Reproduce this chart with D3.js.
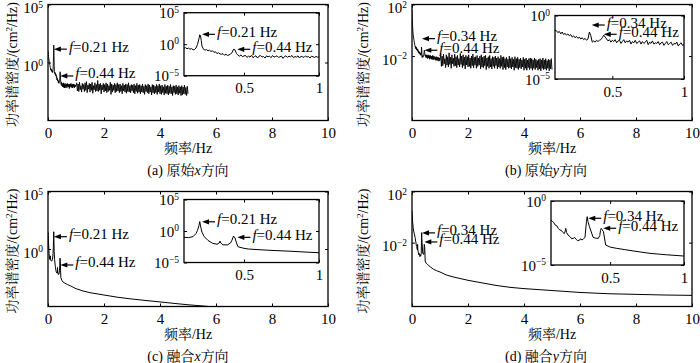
<!DOCTYPE html>
<html><head><meta charset="utf-8">
<script src="https://cdn.jsdelivr.net/npm/d3@7"></script>
<style>body{margin:0;background:#fff}svg{display:block}</style>
</head><body><svg id="c" width="700" height="363"></svg>
<script>
// ================= DATA (values are log10 of PSD, cm^2/Hz) =================
const mainFreqTicks = [0, 2, 4, 6, 8, 10];
const insetFreqTicks = [0.5, 1];
const mainYTicksXdir = [1e0, 1e5];
const mainYTicksYdir = [1e-2, 1e2];
const insetYTicksXdir = [1e-5, 1e0, 1e5];
const insetYTicksYdir = [1e-5, 1e0];
const captionPrefix = ["(a) 原始", "(b) 原始", "(c) 融合", "(d) 融合"];
const captionAxis = ["x", "y", "x", "y"];
const peakLabelsXdir = ["0.21", "0.44"];
const peakLabelsYdir = ["0.34", "0.44"];

// (a) original x direction
const origXHead = [[0,1.0],[0.02,0.5],[0.05,0.0],[0.08,-0.4],[0.10,-0.65],[0.11,-0.55],[0.12,-0.72],[0.13,-0.62],[0.14,-0.8],[0.15,-0.7],[0.16,-0.88],[0.17,-0.85],[0.18,-0.6],[0.19,-0.05],[0.20,0.9],[0.205,1.5],[0.21,1.3],[0.215,0.6],[0.22,-0.3],[0.23,-0.8],[0.24,-0.95],[0.25,-0.85],[0.26,-1.05],[0.27,-0.95],[0.28,-1.15],[0.29,-1.05],[0.30,-1.3],[0.31,-1.2],[0.32,-1.5],[0.33,-1.35],[0.34,-1.55],[0.35,-1.6],[0.36,-1.5],[0.37,-1.75],[0.38,-1.6],[0.39,-1.8],[0.40,-1.7],[0.41,-1.55],[0.42,-1.35],[0.43,-0.8],[0.44,-0.9],[0.45,-1.5],[0.46,-1.75],[0.47,-1.9],[0.48,-1.7],[0.49,-2.0],[0.50,-1.85]];
const origXMid = [-1.8,-2.1,-1.9,-2.05,-1.75,-2.15,-1.95,-1.85,-2.2,-1.9,-1.8,-2.05,-1.95,-2.2,-1.85,-2.0,-1.9,-2.15,-1.8,-2.05,-1.95,-1.85,-2.1,-2.0,-1.9,-2.25,-1.95,-1.85,-2.1,-1.9,-2.0,-1.8,-2.15,-1.95,-2.05,-1.85,-2.2,-1.9,-2.0,-2.1,-1.85,-2.05,-1.95,-2.2,-1.9,-2.0,-2.1,-1.95,-2.05,-2.0];
const origXTail = [
-1.75,-2.45,-1.85,-2.5,-1.7,-2.35,-2.0,-2.55,-1.8,-2.3,
-1.9,-2.5,-1.75,-2.4,-1.65,-2.6,-1.95,-2.3,-1.8,-2.55,
-1.85,-2.4,-1.7,-2.65,-2.0,-2.35,-1.75,-2.5,-1.9,-2.45,
-1.55,-2.5,-1.85,-2.4,-1.8,-2.7,-1.95,-2.35,-1.8,-2.55,
-1.9,-2.45,-1.75,-2.6,-1.85,-2.5,-2.0,-2.4,-1.7,-2.75,
-1.85,-2.55,-1.95,-2.4,-1.8,-2.6,-1.9,-2.5,-1.75,-2.45,
-1.9,-2.6,-1.85,-2.5,-2.0,-2.7,-1.8,-2.45,-1.95,-2.55,
-1.85,-2.65,-1.9,-2.5,-1.75,-2.55,-2.0,-2.6,-1.9,-2.45,
-1.95,-2.6,-1.85,-2.7,-2.0,-2.5,-1.8,-2.65,-1.95,-2.55,
-1.9,-2.7,-2.0,-2.55,-1.85,-2.6,-2.05,-2.75,-1.9,-2.5,
-2.0,-2.6,-1.85,-2.7,-1.95,-2.55,-2.1,-2.8,-1.9,-2.6,
-1.95,-2.7,-2.05,-2.6,-1.9,-2.75,-2.0,-2.55,-1.85,-2.7,
-2.0,-2.75,-1.95,-2.6,-2.1,-2.8,-1.9,-2.65,-2.05,-2.7,
-1.95,-2.8,-2.05,-2.65,-1.9,-2.7,-2.1,-2.85,-2.0,-2.6,
-2.05,-2.75,-1.95,-2.7,-2.1,-2.8,-2.0,-2.65,-2.1,-2.85,
-2.0,-2.8,-2.1,-2.7,-1.95,-2.75,-2.15,-2.85,-2.05,-2.7];

// (b) original y direction
const origYHead = [[0,1.6],[0.01,1.0],[0.02,0.4],[0.03,0.0],[0.04,-0.3],[0.06,-0.6],[0.08,-0.9],[0.10,-1.17]];
const origYMid = [
-1.2,-1.35,-1.25,-1.45,-1.3,-1.5,-1.4,-1.55,-1.45,-1.6,
-1.5,-1.7,-1.6,-1.75,-1.65,-1.8,-1.7,-1.85,-1.75,-1.9,
-1.8,-1.95,-1.85,-1.3,-1.6,-2.1,-2.0,-2.1,-1.95,-2.05,
-1.95,-1.9,-1.75,-1.55,-1.7,-1.85,-2.0,-1.9,-2.1,-1.95,
-2.05,-1.9,-2.15,-2.0,-1.95,-2.2,-2.05,-1.9,-2.15,-2.0,
-2.1,-1.95,-2.25,-2.05,-2.15,-1.95,-2.2,-2.1,-2.0,-2.25,
-2.05,-2.2,-2.1,-1.95,-2.3,-2.1,-2.2,-2.0,-2.25,-2.15,
-2.2,-2.05,-2.3,-2.15,-2.1,-2.35,-2.2,-2.05,-2.3,-2.2,
-2.1,-2.35,-2.2,-2.25,-2.1,-2.4,-2.25,-2.15,-2.35,-2.3];
const origYTail = [
-1.8,-2.8,-2.0,-2.75,-1.85,-2.6,-2.2,-2.9,-1.9,-2.7,
-2.05,-2.85,-1.75,-2.65,-2.1,-2.95,-1.9,-2.6,-2.15,-2.8,
-1.85,-2.75,-2.05,-2.9,-1.95,-2.7,-2.2,-2.85,-1.8,-2.65,
-2.0,-2.9,-1.9,-2.75,-2.1,-3.0,-1.95,-2.7,-2.05,-2.85,
-1.9,-2.8,-2.15,-2.95,-2.0,-2.75,-1.85,-2.9,-2.1,-2.7,
-2.05,-2.95,-1.95,-2.8,-2.15,-2.7,-2.0,-3.0,-1.9,-2.85,
-2.1,-2.9,-2.0,-2.75,-1.95,-3.05,-2.15,-2.8,-2.05,-2.95,
-1.95,-2.85,-2.2,-3.0,-2.05,-2.8,-2.1,-2.95,-2.0,-2.75,
-2.15,-3.0,-2.05,-2.85,-2.2,-2.95,-1.95,-2.8,-2.1,-3.05,
-2.05,-2.9,-2.2,-3.05,-2.1,-2.85,-2.25,-2.95,-2.0,-2.9,
-2.2,-3.0,-2.1,-2.85,-2.25,-3.1,-2.05,-2.9,-2.2,-2.95,
-2.1,-3.05,-2.25,-2.9,-2.15,-3.0,-2.3,-2.85,-2.1,-3.1,
-2.25,-2.95,-2.15,-3.1,-2.3,-2.9,-2.2,-3.05,-2.15,-2.95,
-2.2,-3.1,-2.3,-2.95,-2.15,-3.05,-2.25,-2.9,-2.35,-3.1,
-2.25,-3.0,-2.2,-3.15,-2.3,-2.95,-2.15,-3.05,-2.3,-3.0,
-2.2,-3.1,-2.35,-2.95,-2.25,-3.15,-2.3,-3.0,-2.2,-3.05];

// (c) fused x direction
const fusedX = [[0,1.5],[0.02,0.5],[0.04,-0.4],[0.06,-0.9],[0.08,-0.6],[0.10,-1.0],[0.13,-1.05],[0.16,-0.9],[0.18,-0.4],[0.19,0.1],[0.20,0.9],[0.205,1.5],[0.21,0.8],[0.22,-0.2],[0.235,-0.9],[0.26,-1.5],[0.29,-1.95],[0.32,-2.1],[0.335,-1.9],[0.34,-1.6],[0.345,-1.9],[0.36,-2.2],[0.39,-2.2],[0.41,-1.9],[0.42,-1.45],[0.43,-0.8],[0.44,-1.1],[0.45,-1.9],[0.46,-2.5],[0.50,-2.75],[0.53,-2.86],[0.60,-2.97],[0.70,-3.1],[0.80,-3.2],[0.90,-3.33],[1.0,-3.45],[1.25,-3.65],[1.5,-3.8],[2,-4.0],[2.5,-4.2],[3,-4.35],[3.5,-4.48],[4,-4.6],[4.5,-4.73],[5,-4.85],[6,-5.05],[7,-5.2],[8,-5.32],[9,-5.42],[10,-5.5]];

// (d) fused y direction
const fusedY = [[0,0.5],[0.02,-0.3],[0.04,-0.8],[0.06,-1.1],[0.08,-1.3],[0.10,-1.48],[0.11,-1.6],[0.12,-1.7],[0.127,-1.87],[0.14,-1.95],[0.15,-2.15],[0.16,-2.27],[0.17,-2.3],[0.18,-2.45],[0.19,-2.55],[0.195,-2.4],[0.20,-2.14],[0.205,-2.45],[0.215,-2.66],[0.23,-2.8],[0.24,-2.95],[0.25,-2.92],[0.26,-2.85],[0.27,-3.0],[0.28,-3.1],[0.295,-3.05],[0.30,-2.95],[0.31,-3.05],[0.32,-2.95],[0.33,-2.85],[0.34,-1.6],[0.345,-1.22],[0.35,-1.6],[0.36,-2.0],[0.385,-2.84],[0.40,-2.9],[0.42,-2.92],[0.43,-2.7],[0.435,-2.3],[0.44,-2.14],[0.455,-2.4],[0.47,-3.44],[0.50,-3.6],[0.545,-3.7],[0.60,-3.8],[0.655,-3.9],[0.77,-4.09],[0.88,-4.2],[1.0,-4.3],[1.25,-4.55],[1.5,-4.7],[2,-4.95],[2.5,-5.15],[3,-5.35],[3.5,-5.5],[4,-5.6],[5,-5.75],[6,-5.9],[7,-6.0],[8,-6.05],[9,-6.1],[10,-6.13]];

// annotation anchors [freq, log10 PSD] (arrow tips)
const annMainA = [[0.21,1.15],[0.44,-1.16]];
const annInsetA = [[0.22,1.57],[0.455,-0.81]];
const annMainB = [[0.357,-0.65],[0.44,-1.55]];
const annInsetB = [[0.356,-0.75],[0.44,-1.48]];
const annMainC = [[0.21,1.07],[0.44,-1.39]];
const annInsetC = [[0.22,1.46],[0.456,-1.01]];
const annMainD = [[0.357,-1.24],[0.44,-1.95]];
const annInsetD = [[0.352,-1.35],[0.453,-2.13]];

// ================= build series =================
function joinSeries(head, mid, midStart, midStep, tail, tailStart, tailStep) {
  const out = head.slice();
  mid.forEach((v, i) => out.push([+(midStart + i * midStep).toFixed(3), v]));
  tail.forEach((v, i) => out.push([+(tailStart + i * tailStep).toFixed(3), v]));
  return out;
}
const seriesA = joinSeries(origXHead, origXMid, 0.51, 0.01, origXTail, 1.025, 0.025);
const seriesB = joinSeries(origYHead, origYMid, 0.11, 0.01, origYTail, 1.025, 0.025);

const panels = [
  {series: seriesA, box:{l:48,r:328,t:4.5,b:120.5}, yDom:[1e-5,1e5], yTicks:mainYTicksXdir,
   inset:{l:184,r:319,t:12.7,b:75.7,yDom:[1e-5,1e5],yTicks:insetYTicksXdir},
   ann:annMainA, insetAnn:annInsetA, labels:peakLabelsXdir, titleX:12, capX:188, sw:0.9},
  {series: seriesB, box:{l:412,r:692,t:4.5,b:120.5}, yDom:[1e-7,1e2], yTicks:mainYTicksYdir,
   inset:{l:555,r:684,t:15.5,b:79,yDom:[1e-5,1e0],yTicks:insetYTicksYdir},
   ann:annMainB, insetAnn:annInsetB, labels:peakLabelsYdir, titleX:363, capX:546, sw:0.9},
  {series: fusedX, box:{l:48,r:328,t:191.5,b:306.5}, yDom:[1e-5,1e5], yTicks:mainYTicksXdir,
   inset:{l:184,r:319,t:199.5,b:262.5,yDom:[1e-5,1e5],yTicks:insetYTicksXdir},
   ann:annMainC, insetAnn:annInsetC, labels:peakLabelsXdir, titleX:12, capX:188, sw:1},
  {series: fusedY, box:{l:412,r:692,t:191.5,b:306.5}, yDom:[1e-7,1e2], yTicks:mainYTicksYdir,
   inset:{l:551,r:684,t:201,b:265,yDom:[1e-5,1e0],yTicks:insetYTicksYdir},
   ann:annMainD, insetAnn:annInsetD, labels:peakLabelsYdir, titleX:363, capX:546, sw:1}
];

// ================= drawing =================
const svg = d3.select('#c');
const SERIF = '"Liberation Serif","Times New Roman",serif';
const CJK = '"Liberation Serif","Noto Serif CJK SC","Noto Sans CJK SC",serif';
const FS = 15;

function supLabels(g, dyPx) {
  g.selectAll('.tick text').each(function(d) {
    const e = Math.round(Math.log10(d));
    const t = d3.select(this);
    t.text(null).attr('dy', dyPx);
    t.append('tspan').text('10');
    t.append('tspan').attr('dy', -5.5).attr('font-size', 9.5).text(e < 0 ? '\u2212' + (-e) : String(e));
  });
}
function styleAxis(g) {
  g.select('.domain').remove();
  g.selectAll('.tick line').attr('stroke', '#000').attr('stroke-width', 1);
  g.selectAll('.tick text').attr('fill', '#000').attr('font-family', SERIF).attr('font-size', FS);
}
function drawFrame(parent, x, y, bx, xTicks, yTicks, yDy) {
  const gb = parent.append('g').attr('transform', `translate(0,${bx.b})`)
    .call(d3.axisBottom(x).tickValues(xTicks).tickSize(-3).tickPadding(7).tickFormat(d3.format('')));
  styleAxis(gb);
  const gt = parent.append('g').attr('transform', `translate(0,${bx.t})`)
    .call(d3.axisTop(x).tickValues(xTicks).tickSize(-3).tickFormat(''));
  styleAxis(gt);
  const gl = parent.append('g').attr('transform', `translate(${bx.l},0)`)
    .call(d3.axisLeft(y).tickValues(yTicks).tickSize(-3).tickPadding(5));
  styleAxis(gl); supLabels(gl, yDy);
  const gr = parent.append('g').attr('transform', `translate(${bx.r},0)`)
    .call(d3.axisRight(y).tickValues(yTicks).tickSize(-3).tickFormat(''));
  styleAxis(gr);
  parent.append('rect').attr('x', bx.l).attr('y', bx.t).attr('width', bx.r - bx.l).attr('height', bx.b - bx.t)
    .attr('fill', 'none').attr('stroke', '#000').attr('stroke-width', 1.3);
}
function drawArrow(parent, px, py, label) {
  parent.append('path')
    .attr('d', `M${px},${py} L${px + 7},${py - 2.6} L${px + 7},${py + 2.6} Z`).attr('fill', '#000');
  parent.append('line').attr('x1', px + 6).attr('x2', px + 13).attr('y1', py).attr('y2', py)
    .attr('stroke', '#000').attr('stroke-width', 1.2);
  const t = parent.append('text').attr('x', px + 15).attr('y', py + 2.5)
    .attr('font-family', SERIF).attr('font-size', FS).attr('fill', '#000');
  t.append('tspan').attr('font-style', 'italic').text('f');
  t.append('tspan').text('=' + label + ' Hz');
}

panels.forEach((p, i) => {
  const g = svg.append('g');
  const bx = p.box;
  const x = d3.scaleLinear().domain([0, 10]).range([bx.l, bx.r]);
  const y = d3.scaleLog().domain(p.yDom).range([bx.b, bx.t]);
  const cid = 'clipm' + i;
  svg.append('clipPath').attr('id', cid).append('rect')
    .attr('x', bx.l).attr('y', bx.t).attr('width', bx.r - bx.l).attr('height', bx.b - bx.t);
  const line = d3.line().x(d => x(d[0])).y(d => y(Math.pow(10, d[1])));
  g.append('path').datum(p.series).attr('clip-path', `url(#${cid})`)
    .attr('d', line).attr('fill', 'none').attr('stroke', '#000').attr('stroke-width', p.sw)
    .attr('stroke-linejoin', 'round');
  drawFrame(g, x, y, bx, mainFreqTicks, p.yTicks, 8);

  // inset
  const ib = p.inset;
  const xi = d3.scaleLinear().domain([0.1, 1]).range([ib.l, ib.r]);
  const yi = d3.scaleLog().domain(ib.yDom).range([ib.b, ib.t]);
  g.append('rect').attr('x', ib.l).attr('y', ib.t).attr('width', ib.r - ib.l).attr('height', ib.b - ib.t).attr('fill', '#fff');
  const cidi = 'clipi' + i;
  svg.append('clipPath').attr('id', cidi).append('rect')
    .attr('x', ib.l).attr('y', ib.t).attr('width', ib.r - ib.l).attr('height', ib.b - ib.t);
  const linei = d3.line().x(d => xi(d[0])).y(d => yi(Math.pow(10, d[1])));
  g.append('path').datum(p.series.filter(d => d[0] >= 0.08 && d[0] <= 1.03)).attr('clip-path', `url(#${cidi})`)
    .attr('d', linei).attr('fill', 'none').attr('stroke', '#000').attr('stroke-width', 1)
    .attr('stroke-linejoin', 'round');
  drawFrame(g, xi, yi, ib, insetFreqTicks, ib.yTicks, 5);

  // annotations
  p.ann.forEach((a, k) => drawArrow(g, x(a[0]), y(Math.pow(10, a[1])), p.labels[k]));
  p.insetAnn.forEach((a, k) => drawArrow(g, xi(a[0]), yi(Math.pow(10, a[1])), p.labels[k]));

  // y title
  const cy = (bx.t + bx.b) / 2 + 2;
  const yt = g.append('text').attr('transform', `translate(${p.titleX + 5},${cy}) rotate(-90)`)
    .attr('text-anchor', 'middle').attr('font-family', CJK).attr('font-size', 14).attr('fill', '#000');
  yt.append('tspan').text('功率谱密度/(cm');
  yt.append('tspan').attr('dy', -5).attr('font-size', 9).text('2');
  yt.append('tspan').attr('dy', 5).text('/Hz)');

  // x title
  g.append('text').attr('x', (bx.l + bx.r) / 2).attr('y', bx.b + 32.5).attr('text-anchor', 'middle')
    .attr('font-family', CJK).attr('font-size', 14).attr('fill', '#000').text('频率/Hz');

  // caption
  const cap = g.append('text').attr('x', p.capX).attr('y', bx.b + 54).attr('text-anchor', 'middle')
    .attr('font-family', CJK).attr('font-size', 14).attr('fill', '#000');
  cap.append('tspan').text(captionPrefix[i]);
  cap.append('tspan').attr('font-style', 'italic').text(captionAxis[i]);
  cap.append('tspan').text('方向');
});
</script></body></html>
